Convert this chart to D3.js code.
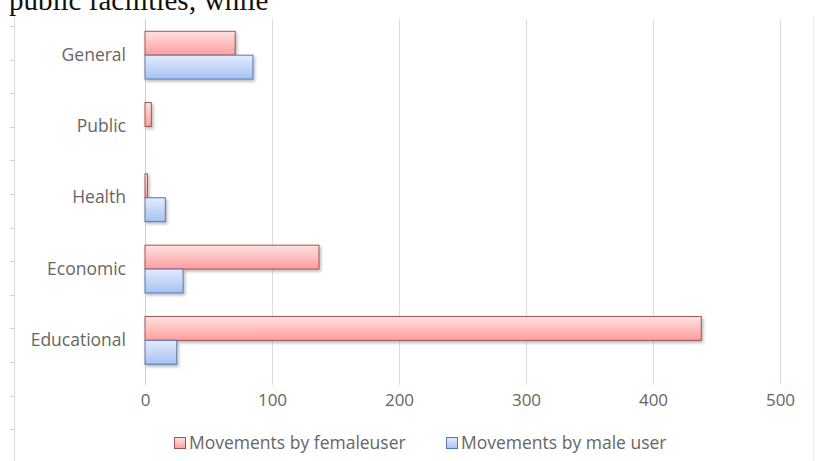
<!DOCTYPE html>
<html>
<head>
<meta charset="utf-8">
<script src="https://cdn.jsdelivr.net/npm/d3@7/dist/d3.min.js"></script>
<style>
  html, body { margin: 0; padding: 0; background: #fff; }
  svg { display: block; }
</style>
</head>
<body>
<svg id="chart" width="818" height="461"></svg>
<script>
// Movements per category, split by user gender
const categories = ["General", "Public", "Health", "Economic", "Educational"];
const femaleValues = [71, 5, 2, 137, 438];
const maleValues = [85, 0, 16, 30, 25];
const seriesNames = ["Movements by femaleuser", "Movements by male user"];
const xTicks = [0, 100, 200, 300, 400, 500];

const svg = d3.select("#chart");
const W = 818, H = 461;
const font = "'Open Sans', Lato, sans-serif";
const textGrey = "#666666";

const defs = svg.append("defs");
function gradient(id, top, bottom) {
  const g = defs.append("linearGradient").attr("id", id)
    .attr("x1", 0).attr("y1", 0).attr("x2", 0).attr("y2", 1);
  g.append("stop").attr("offset", "0%").attr("stop-color", top);
  g.append("stop").attr("offset", "100%").attr("stop-color", bottom);
}
gradient("gFemale", "#ffe1e1", "#ff9d9d");
gradient("gMale", "#e3ecfd", "#a6c2f2");
const shadow = defs.append("filter").attr("id", "shadow")
  .attr("x", "-5%").attr("y", "-20%").attr("width", "115%").attr("height", "160%");
shadow.append("feDropShadow").attr("dx", 1.5).attr("dy", 2)
  .attr("stdDeviation", 1.5).attr("flood-color", "#000").attr("flood-opacity", 0.28);

// Line of body text above the figure, cut off by the page edge
svg.append("text")
  .attr("x", 9).attr("y", 10)
  .attr("font-family", "'Liberation Serif', 'DejaVu Serif', serif")
  .attr("font-size", 29).attr("fill", "#111")
  .text("public facilities; while");

// Faint frame of the figure: left edge with small ticks, right edge
svg.append("line").attr("x1", 14.5).attr("x2", 14.5).attr("y1", 16).attr("y2", H)
  .attr("stroke", "#dcdcdc");
svg.append("line").attr("x1", 813.5).attr("x2", 813.5).attr("y1", 16).attr("y2", H)
  .attr("stroke", "#ececec");
d3.range(26, H, 33.6).forEach(y => {
  svg.append("line").attr("x1", 10).attr("x2", 14.5)
    .attr("y1", Math.round(y) + 0.5).attr("y2", Math.round(y) + 0.5)
    .attr("stroke", "#d6d6d6");
});

const x = d3.scaleLinear().domain([0, 500]).range([145, 780]);
const y = d3.scaleBand().domain(categories).range([19.5, 376])
  .paddingInner(0.33).paddingOuter(0.165);
const sub = d3.scaleBand().domain(["f", "m"]).range([0, y.bandwidth()]);

// Vertical gridlines and value axis labels
const xAxis = d3.axisBottom(x).tickValues(xTicks).tickSize(0).tickFormat(d3.format("d"));
const gx = svg.append("g").attr("transform", "translate(0,390)").call(xAxis);
gx.select(".domain").remove();
gx.selectAll("text").attr("font-family", font).attr("font-size", 17)
  .attr("fill", textGrey).attr("dy", "0.75em");
svg.append("g").selectAll("line").data(xTicks).join("line")
  .attr("x1", d => Math.round(x(d)) + 0.5).attr("x2", d => Math.round(x(d)) + 0.5)
  .attr("y1", 19).attr("y2", 385)
  .attr("stroke", d => d === 0 ? "#cfcfcf" : "#dddddd");

// Category axis labels
const yAxis = d3.axisLeft(y).tickSize(0).tickPadding(0);
const gy = svg.append("g").attr("transform", "translate(126,0)").call(yAxis);
gy.select(".domain").remove();
gy.selectAll("text").attr("font-family", font).attr("font-size", 17.5).attr("fill", textGrey);

// Bars
const rows = categories.map((c, i) => ({ c, f: femaleValues[i], m: maleValues[i] }));
const barG = svg.append("g").attr("filter", "url(#shadow)");
barG.selectAll("rect.f").data(rows.filter(d => d.f > 0)).join("rect")
  .attr("class", "f")
  .attr("x", x(0)).attr("y", d => y(d.c) + sub("f"))
  .attr("width", d => x(d.f) - x(0)).attr("height", sub.bandwidth())
  .attr("fill", "url(#gFemale)").attr("stroke", "#9e5454").attr("stroke-width", 1);
barG.selectAll("rect.m").data(rows.filter(d => d.m > 0)).join("rect")
  .attr("class", "m")
  .attr("x", x(0)).attr("y", d => y(d.c) + sub("m"))
  .attr("width", d => x(d.m) - x(0)).attr("height", sub.bandwidth())
  .attr("fill", "url(#gMale)").attr("stroke", "#5877aa").attr("stroke-width", 1);

// Legend
const legend = [
  { name: seriesNames[0], x: 174, fill: "url(#gFemale)", stroke: "#9e5454" },
  { name: seriesNames[1], x: 446, fill: "url(#gMale)", stroke: "#5877aa" }
];
const lg = svg.append("g").selectAll("g").data(legend).join("g")
  .attr("transform", d => `translate(${d.x},437)`);
lg.append("rect").attr("x", 0.5).attr("y", 0.5).attr("width", 11).attr("height", 11)
  .attr("fill", d => d.fill).attr("stroke", d => d.stroke);
lg.append("text").attr("x", 15).attr("y", 6).attr("dy", "0.35em")
  .attr("font-family", font).attr("font-size", 17.5).attr("fill", textGrey)
  .text(d => d.name);
</script>
</body>
</html>
